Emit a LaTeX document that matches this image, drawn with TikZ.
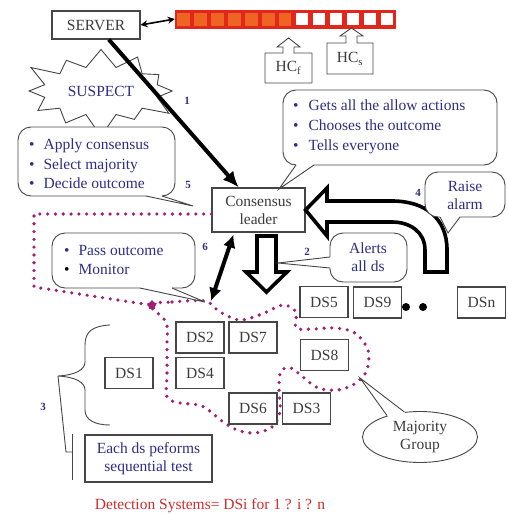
\documentclass[tikz,border=0pt]{standalone}
\usepackage{fontspec}
\setmainfont{Liberation Serif}
\usetikzlibrary{arrows.meta,shapes.symbols,shapes.geometric,calc}
\definecolor{navy}{RGB}{46,46,134}
\definecolor{boxtext}{RGB}{60,60,60}
\definecolor{qred}{RGB}{226,38,28}
\definecolor{qorange}{RGB}{238,100,34}
\definecolor{dotmag}{RGB}{160,30,115}
\definecolor{redtext}{RGB}{208,44,44}
\definecolor{edge}{RGB}{70,70,70}
\begin{document}
\begin{tikzpicture}[x=1pt,y=-1pt,
  txt/.style={font=\fontsize{15.5}{18}\selectfont, inner sep=0pt, align=center},
  box/.style={draw=edge, line width=1.1pt, fill=white, txt, text=boxtext, minimum width=48pt, minimum height=31pt},
  bline/.style={draw=edge, line width=0.9pt},
  bub/.style={bline, fill=white, rounded corners=13pt},
  bullets/.style={inner sep=0pt, align=left, anchor=west, text=navy},
  num/.style={font=\fontsize{11}{12}\selectfont\bfseries, text=navy, inner sep=0pt},
  dotpath/.style={draw=dotmag, line width=3.6pt, line cap=round, dash pattern=on 0pt off 7.8pt},
  bigarrow/.style={draw=black, line width=3.6pt, fill=white, line join=miter},
  thickarrow/.style={line width=4pt, draw=black},
]
\useasboundingbox (0,0) rectangle (507,514);

% queue
\node[draw=qred, fill=qred, minimum width=220pt, minimum height=18pt, inner sep=0pt] (queue) at (285,19) {};
\foreach \i in {0,...,6} \fill[qorange] ({175+\i*16.923+2},12.5) rectangle ({175+(\i+1)*16.923-2},25.5);
\foreach \i in {7,...,12} \fill[white] ({175+\i*16.923+2.5},13) rectangle ({175+(\i+1)*16.923-2.5},25);

% server
\node[box, minimum width=88pt, minimum height=28pt] (server) at (96,25) {SERVER};
\draw[line width=1.6pt, {Stealth[length=7pt,width=7pt]}-{Stealth[length=7pt,width=7pt]}] (server.east) -- (queue.west);

% HC boxes
\node[txt, text=boxtext] (hcf) at (288.5,68) {HC\textsubscript{f}};
\draw[bline] (283,53) -- (265,53) -- (265,83) -- (312,83) -- (312,53) -- (294,53) -- (294,47) -- (300,47) -- (288.5,38) -- (277,47) -- (283,47) -- cycle;
\node[txt, text=boxtext] (hcs) at (350,59) {HC\textsubscript{s}};
\draw[bline] (346,43) -- (327,43) -- (327,74) -- (373,74) -- (373,43) -- (357,43) -- (357,36) -- (363,36) -- (351.5,28) -- (340,36) -- (346,36) -- cycle;

% suspect
\node[starburst, draw=edge, fill=white, line width=0.9pt, starburst points=12, starburst point height=24pt, txt, inner xsep=8pt, inner ysep=12pt, text=navy] (suspect) at (101,91) {SUSPECT};

% leader
\node[box, minimum width=93pt, minimum height=44pt] (leader) at (258.5,210) {Consensus\\leader};

% arrow 1
\draw[thickarrow, -{Latex[length=16pt,width=14pt]}] (server) -- (leader);
\node[num] (n1) at (187,101) {1};

% bubble A
\draw[bub] (18,127) rectangle (175,196);
\fill[white] (146,196) -- (193,206) -- (162,196) -- (162,192) -- (146,192) -- cycle;
\draw[bline] (146,196) -- (193,206) -- (162,196);
\node[bullets, font=\fontsize{15.5}{19.5}\selectfont] (bubA) at (29,164) {\textbullet\hspace{9pt}Apply consensus\\\textbullet\hspace{9pt}Select majority\\\textbullet\hspace{9pt}Decide outcome};
\node[num] (n5) at (188,185) {5};

% bubble B
\draw[bub] (283,90) rectangle (497,165);
\fill[white] (296,165) -- (279,189) -- (314,165) -- (314,160) -- (296,160) -- cycle;
\draw[bline] (296,165) -- (279,189) -- (314,165);
\node[bullets, font=\fontsize{15.5}{20}\selectfont] (bubB) at (293,127) {\textbullet\hspace{10pt}Gets all the allow actions\\\textbullet\hspace{10pt}Chooses the outcome\\\textbullet\hspace{10pt}Tells everyone};

% U arrow 4
\draw[bigarrow] (leader.east) -- (327,188) -- (327,201) -- (392,201) .. controls (425,201) and (447,218) .. (447,250) -- (447,272) -- (425,272) -- (425,250) .. controls (425,232) and (410,222) .. (392,222) -- (327,222) -- (327,236) -- cycle;
\node[num] (n4) at (418,193) {4};

% raise alarm
\draw[bub] (425,172) rectangle (505,217);
\fill[white] (440,217) -- (448,233) -- (460,217) -- (460,213) -- (440,213) -- cycle;
\draw[bline] (440,217) -- (448,233) -- (460,217);
\node[txt, text=navy] (alarm) at (465,195) {Raise\\alarm};

% down arrow 2
\draw[bigarrow] (257,236) -- (276,236) -- (276,272) -- (287,272) -- (266.5,292) -- (246,272) -- (257,272) -- cycle;
\node[num] (n2) at (307,252) {2};

% alerts
\draw[bub] (330,233) rectangle (407,282);
\fill[white] (330,257) -- (278,263) -- (330,268) -- (334,268) -- (334,257) -- cycle;
\draw[bline] (330,257) -- (278,263) -- (330,268);
\node[txt, text=navy] (alerts) at (368,257) {Alerts\\all ds};

% dotted group
\draw[dotpath] ($(leader.west)+(0,4)$) -- (34,214) -- (34,287) -- (150,305);
\draw[dotpath] plot[smooth cycle, tension=0.55] coordinates {(150,305) (172,302) (205,301) (220,312) (240,320) (262,314) (283,305) (296,312) (296,328) (312,329) (335,328) (355,333) (368,350) (367,370) (356,383) (338,390) (318,388) (303,377) (291,368) (281,371) (279,388) (280,412) (272,427) (255,433) (237,430) (222,421) (202,406) (180,403) (167,397) (167,375) (167,345) (166,322)};
\node[star, star points=5, fill=dotmag, minimum size=10pt, inner sep=0pt] (junction) at (152,305) {};

% DS boxes
\node[box] (ds2) at (200,337.5) {DS2};
\node[box] (ds7) at (253,337.5) {DS7};
\node[box] (ds4) at (200,373) {DS4};
\node[box] (ds6) at (253,408.5) {DS6};
\node[box] (ds3) at (306.5,408.5) {DS3};
\node[box] (ds8) at (324.5,355) {DS8};
\node[box] (ds5) at (324,302) {DS5};
\node[box] (ds9) at (377.5,302.5) {DS9};
\node[box] (dsn) at (481.5,302.5) {DSn};
\node[box] (ds1) at (129,373) {DS1};
\node[circle, fill=black, inner sep=0pt, minimum size=8pt] (dotA) at (406,307) {};
\node[circle, fill=black, inner sep=0pt, minimum size=8pt] (dotB) at (423,307) {};

% double arrow 6
\coordinate (six) at (211,301);
\draw[thickarrow, {Latex[length=13pt,width=13pt]}-{Latex[length=13pt,width=13pt]}] ($(leader.south)+(-25,2)$) -- (six);
\node[num] (n6) at (205,247) {6};

% bubble C
\draw[bub] (52,233) rectangle (195,288);
\fill[white] (140,288) -- (205,302) -- (172,288) -- (172,284) -- (140,284) -- cycle;
\draw[bline] (140,288) -- (205,302) -- (172,288);
\node[bullets, font=\fontsize{15.5}{19}\selectfont] (bubC) at (64,259.5) {\textbullet\hspace{9pt}Pass outcome\\\textcolor{black}{\textbullet}\hspace{9pt}Monitor};

% brace and bracket
\draw[bline] (110,325) .. controls (92,326) and (85,332) .. (85,345) -- (85,362) .. controls (85,370) and (75,375) .. (58,376) .. controls (75,377) and (85,382) .. (85,390) -- (85,410) .. controls (85,420) and (95,425) .. (110,425);
\draw[bline] (58,376) -- (66,452) -- (72,452);
\draw[bline] (72,434) -- (72,480);
\node[num] (n3) at (43,407) {3};
\node[box, minimum width=127pt, minimum height=47pt, text=navy] (each) at (148.5,458.5) {Each ds peforms\\sequential test};

% majority
\node[ellipse, draw=edge, line width=0.9pt, fill=white, minimum width=115pt, minimum height=51pt, txt, text=boxtext] (maj) at (420,437) {Majority\\Group};
\coordinate (majtip) at (360,378);
\fill[white] (maj.147) -- (majtip) -- (maj.122) -- ($(maj.122)!0.1!(maj.center)$) -- ($(maj.147)!0.1!(maj.center)$) -- cycle;
\draw[bline] (maj.147) -- (majtip) -- (maj.122);

% caption
\node[txt, text=redtext] (caption) at (210,506) {Detection Systems= DSi for 1 ? i ? n};
\end{tikzpicture}
\end{document}
